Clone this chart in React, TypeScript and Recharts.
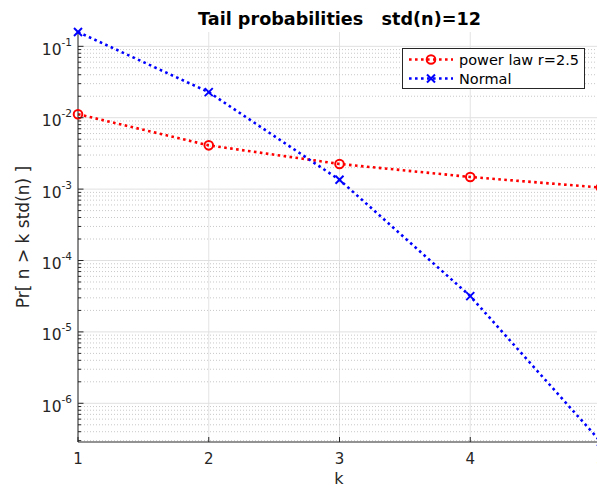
import { LineChart, Line, XAxis, YAxis, CartesianGrid, ReferenceLine, Legend, Customized } from 'recharts';

const kValues = [1, 2, 3, 4, 5];
const powerLaw = [0.0112, 0.0041, 0.00225, 0.00148, 0.00105];
const normal = [0.1587, 0.0228, 0.00135, 3.17e-5, 2.87e-7];
const xTicks = [1, 2, 3, 4, 5];
const yMajor = [1e-6, 1e-5, 1e-4, 1e-3, 1e-2, 1e-1];

const AXIS = '#262626';
const FONT = '"DejaVu Sans", sans-serif';

const series = [
  { key: 'power', name: 'power law r=2.5', color: '#ff0000', marker: 'o' },
  { key: 'normal', name: 'Normal', color: '#0000ff', marker: 'x' },
];

const data = kValues.map((k, i) => ({ k, power: powerLaw[i], normal: normal[i] }));

const yDomain = [Math.min(...normal), Math.max(...normal)];

// minor log grid: 2..9 x each decade, kept inside the y range
const yMinor: number[] = [];
for (let e = -7; e <= -1; e++) {
  for (let m = 2; m <= 9; m++) {
    const v = m * Math.pow(10, e);
    if (v >= yDomain[0] && v <= yDomain[1]) yMinor.push(v);
  }
}
const yTicks = [...yMajor, ...yMinor].sort((a, b) => a - b);

const isMajor = (v: number) => yMajor.some((m) => Math.abs(m - v) / m < 1e-9);

function Marker({ cx, cy, type, color }: { cx: number; cy: number; type: string; color: string }) {
  if (type === 'o') {
    return <circle cx={cx} cy={cy} r={4.3} fill="none" stroke={color} strokeWidth={2} />;
  }
  const s = 4;
  return (
    <g stroke={color} strokeWidth={2}>
      <line x1={cx - s} y1={cy - s} x2={cx + s} y2={cy + s} />
      <line x1={cx - s} y1={cy + s} x2={cx + s} y2={cy - s} />
    </g>
  );
}

const XTick = (props: any) => {
  const { x, y, payload } = props;
  return (
    <g>
      <line x1={x} x2={x} y1={y} y2={y - 5} stroke={AXIS} />
      <text x={x} y={y + 22} textAnchor="middle" fill={AXIS} fontSize={15} fontFamily={FONT}>
        {payload.value}
      </text>
    </g>
  );
};

const TopTick = (props: any) => {
  const { x, y } = props;
  return <line x1={x} x2={x} y1={y} y2={y + 5} stroke={AXIS} />;
};

const YTick = (props: any) => {
  const { x, y, payload } = props;
  const v = payload.value;
  if (!isMajor(v)) return <line x1={x} x2={x + 3} y1={y} y2={y} stroke={AXIS} />;
  const exp = Math.round(Math.log10(v));
  return (
    <g>
      <line x1={x} x2={x + 5.5} y1={y} y2={y} stroke={AXIS} />
      <text x={x - 6} y={y + 8.5} textAnchor="end" fill={AXIS} fontSize={15.5} fontFamily={FONT}>
        <tspan>10</tspan>
        <tspan dy={-9} fontSize={10.5}>{exp}</tspan>
      </text>
    </g>
  );
};

const LegendBox = () => (
  <svg width={184} height={42} style={{ display: 'block' }}>
    <rect x={0.5} y={0.5} width={182} height={40} fill="#fff" stroke={AXIS} />
    {series.map((s, i) => {
      const cy = 11.5 + i * 19;
      return (
        <g key={s.key}>
          <line x1={7} x2={51} y1={cy} y2={cy} stroke={s.color} strokeWidth={2.6} strokeDasharray="2.6 3.4" />
          <Marker cx={29} cy={cy} type={s.marker} color={s.color} />
          <text x={57} y={cy + 5} fontSize={14.5} fontFamily={FONT} fill="#000">
            {s.name}
          </text>
        </g>
      );
    })}
  </svg>
);

const Texts = () => (
  <g fontFamily={FONT}>
    <text x={339.5} y={25} textAnchor="middle" fontWeight="bold" fontSize={17.6} fill="#000" style={{ whiteSpace: 'pre' }}>
      {'Tail probabilities   std(n)=12'}
    </text>
    <text x={339} y={484} textAnchor="middle" fontSize={16} fill={AXIS}>
      k
    </text>
    <text
      x={29}
      y={237}
      textAnchor="middle"
      fontSize={17}
      fill={AXIS}
      transform="rotate(-90 29 237)"
      style={{ whiteSpace: 'pre' }}
    >
      {'Pr[ n > k std(n) ]'}
    </text>
  </g>
);

export default function App() {
  return (
    <div
      style={{
        position: 'absolute',
        left: 0,
        top: 0,
        width: 597,
        height: 487,
        overflow: 'hidden',
        background: '#fff',
        fontFamily: FONT,
      }}
    >
      <LineChart width={610} height={487} data={data} margin={{ top: 32, right: 9, bottom: 15, left: 0 }}>
        <CartesianGrid horizontal={false} stroke="#e3e3e3" />
        {yMinor.map((v) => (
          <ReferenceLine key={'mi' + v} y={v} stroke="#c8c8c8" strokeDasharray="1 2" />
        ))}
        {yMajor.map((v) => (
          <ReferenceLine key={'ma' + v} y={v} stroke="#e0e0e0" />
        ))}
        <XAxis
          dataKey="k"
          type="number"
          domain={[1, 5]}
          ticks={xTicks}
          interval={0}
          height={30}
          tickSize={0}
          tickMargin={0}
          tickLine={false}
          tick={<XTick />}
          axisLine={{ stroke: AXIS }}
        />
        <XAxis
          xAxisId="top"
          orientation="top"
          dataKey="k"
          type="number"
          domain={[1, 5]}
          ticks={xTicks}
          interval={0}
          height={0}
          tickSize={0}
          tickMargin={0}
          tickLine={false}
          tick={<TopTick />}
          axisLine={{ stroke: AXIS }}
        />
        <YAxis
          scale="log"
          type="number"
          domain={yDomain}
          ticks={yTicks}
          interval={0}
          width={78}
          tickSize={0}
          tickMargin={0}
          tickLine={false}
          tick={<YTick />}
          axisLine={{ stroke: AXIS }}
        />
        {series.map((s) => (
          <Line
            key={s.key}
            dataKey={s.key}
            name={s.name}
            stroke={s.color}
            strokeWidth={2.6}
            strokeDasharray="2.6 3.4"
            isAnimationActive={false}
            activeDot={false}
            dot={(p: any) => (
              <Marker key={`${s.key}-${p.index}`} cx={p.cx} cy={p.cy} type={s.marker} color={s.color} />
            )}
          />
        ))}
        <Legend
          layout="horizontal"
          verticalAlign="middle"
          align="center"
          content={<LegendBox />}
          wrapperStyle={{ position: 'absolute', left: 402, top: 48, width: 184, height: 42 }}
        />
        <Customized component={<Texts />} />
      </LineChart>
    </div>
  );
}
